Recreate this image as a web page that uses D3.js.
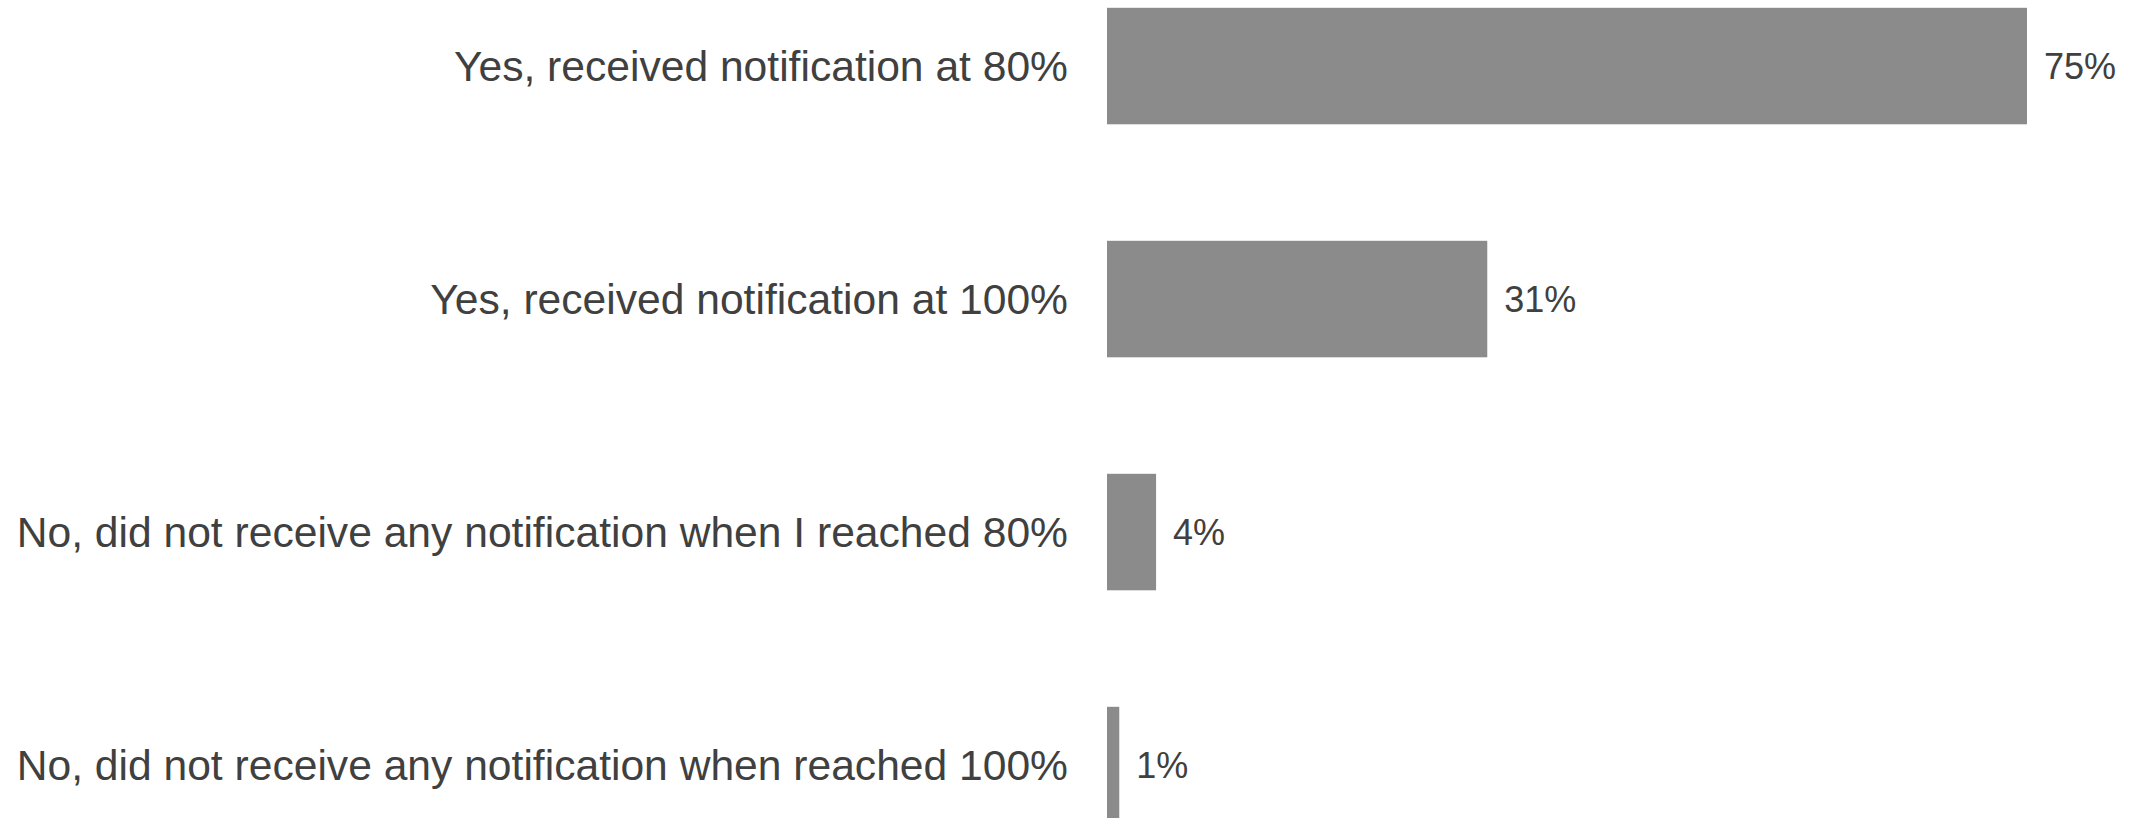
<!DOCTYPE html>
<html>
<head>
<meta charset="utf-8">
<script src="https://cdn.jsdelivr.net/npm/d3@7"></script>
<style>
  html, body { margin: 0; padding: 0; background: #ffffff; overflow: hidden; }
  svg { display: block; }
</style>
</head>
<body>
<svg id="chart" width="2131" height="818"></svg>
<script>
// Survey responses: battery notification received
const categories = [
  "Yes, received notification at 80%",
  "Yes, received notification at 100%",
  "No, did not receive any notification when I reached 80%",
  "No, did not receive any notification when reached 100%"
];
const values = [75, 31, 4, 1];
const valueLabels = ["75%", "31%", "4%", "1%"];

const width = 2131, height = 818;
const barLeft = 1107, barRightAtMax = 2027;
const labelRight = 1068;
const catFont = 42.6, valFont = 36;
const textColor = "#404040";
const barColor = "#8b8b8c";

const svg = d3.select("#chart");

const x = d3.scaleLinear().domain([0, 75]).range([barLeft, barRightAtMax]);
const y = d3.scaleBand().domain(categories).range([7.8, 823.3])
  .paddingInner(0.5).paddingOuter(0);

const rows = categories.map((c, i) => ({ cat: c, val: values[i], lab: valueLabels[i] }));

svg.append("g").selectAll("rect")
  .data(rows)
  .join("rect")
  .attr("x", x(0))
  .attr("y", d => y(d.cat))
  .attr("width", d => x(d.val) - x(0))
  .attr("height", y.bandwidth())
  .attr("fill", barColor);

// Category labels, right-aligned to the left of the bars
svg.append("g").selectAll("text")
  .data(rows)
  .join("text")
  .attr("x", labelRight)
  .attr("y", d => y(d.cat) + y.bandwidth() / 2 + catFont * 0.716 / 2)
  .attr("text-anchor", "end")
  .attr("font-family", "'Liberation Sans', Arial, sans-serif")
  .attr("font-size", catFont)
  .attr("fill", textColor)
  .text(d => d.cat);

// Value labels at the end of each bar
svg.append("g").selectAll("text")
  .data(rows)
  .join("text")
  .attr("x", d => x(d.val) + 17)
  .attr("y", d => y(d.cat) + y.bandwidth() / 2 + valFont * 0.716 / 2)
  .attr("font-family", "'Liberation Sans', Arial, sans-serif")
  .attr("font-size", valFont)
  .attr("fill", textColor)
  .text(d => d.lab);
</script>
</body>
</html>
